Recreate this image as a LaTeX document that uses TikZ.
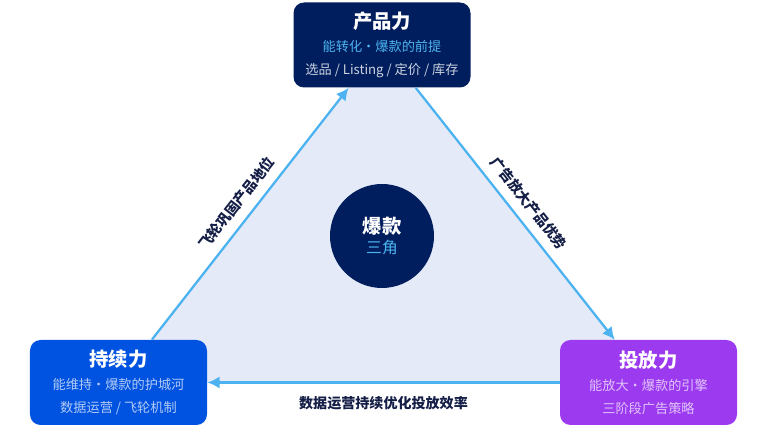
\documentclass[tikz,border=0pt]{standalone}
\usepackage{fontspec}
\setmainfont{Noto Sans CJK SC}
\usepackage{tikz}
\usetikzlibrary{arrows.meta,calc,positioning}
\definecolor{navyBox}{RGB}{0,30,94}
\definecolor{blueBox}{RGB}{0,82,224}
\definecolor{purpleBox}{RGB}{156,58,240}
\definecolor{triFill}{RGB}{228,234,248}
\definecolor{edgeBlue}{RGB}{77,179,240}
\definecolor{labelNavy}{RGB}{20,30,70}

\begin{document}
\begin{tikzpicture}[font=\small,
    forceBox/.style={rounded corners=6pt, minimum height=1.7cm, minimum width=3.54cm, text=white, align=center, inner sep=2pt},
    flow/.style={-{Latex[length=7pt,width=7pt]}, draw=edgeBlue, line width=1.3pt},
    edgeLabel/.style={font=\fontsize{8}{10}\selectfont\bfseries, text=labelNavy},
    ]
    \useasboundingbox (0,0) rectangle (15.2,8.8);

    \coordinate (cTop) at (7.64,7.9);
    \coordinate (cLeft) at (2.37,1.15);
    \coordinate (cRight) at (12.97,1.15);
    \fill[triFill] (cTop) -- (cLeft) -- (cRight) -- cycle;

    \node[forceBox, fill=navyBox] (product) at (cTop) {{\fontsize{11}{13}\selectfont\bfseries 产品力}\\[2pt]
        {\fontsize{7.5}{9}\selectfont\color{edgeBlue} 能转化·爆款的前提}\\[2pt]
        {\fontsize{7.5}{9}\selectfont\color{white!80!navyBox} 选品 / Listing / 定价 / 库存}};
    \node[forceBox, fill=blueBox] (keep) at (cLeft) {{\fontsize{11}{13}\selectfont\bfseries 持续力}\\[2pt]
        {\fontsize{7.5}{9}\selectfont\color{white!70!blueBox} 能维持·爆款的护城河}\\[2pt]
        {\fontsize{7.5}{9}\selectfont\color{white!70!blueBox} 数据运营 / 飞轮机制}};
    \node[forceBox, fill=purpleBox] (push) at (cRight) {{\fontsize{11}{13}\selectfont\bfseries 投放力}\\[2pt]
        {\fontsize{7.5}{9}\selectfont\color{white!70!purpleBox} 能放大·爆款的引擎}\\[2pt]
        {\fontsize{7.5}{9}\selectfont\color{white!70!purpleBox} 三阶段广告策略}};

    \node[circle, fill=navyBox, minimum size=2.08cm, align=center, text=white] (core) at (7.64,4.08)
        {{\fontsize{11}{13}\selectfont\bfseries 爆款}\\{\fontsize{9}{11}\selectfont\color{edgeBlue} 三角}};

    \draw[flow] (keep) -- (product) node[midway, above, sloped, edgeLabel, yshift=2pt] {飞轮巩固产品地位};
    \draw[flow] (product) -- (push) node[midway, above, sloped, edgeLabel, yshift=2pt] {广告放大产品优势};
    \draw[flow] (push) -- (keep) node[midway, below, edgeLabel, yshift=-4pt] {数据运营持续优化投放效率};
\end{tikzpicture}
\end{document}
